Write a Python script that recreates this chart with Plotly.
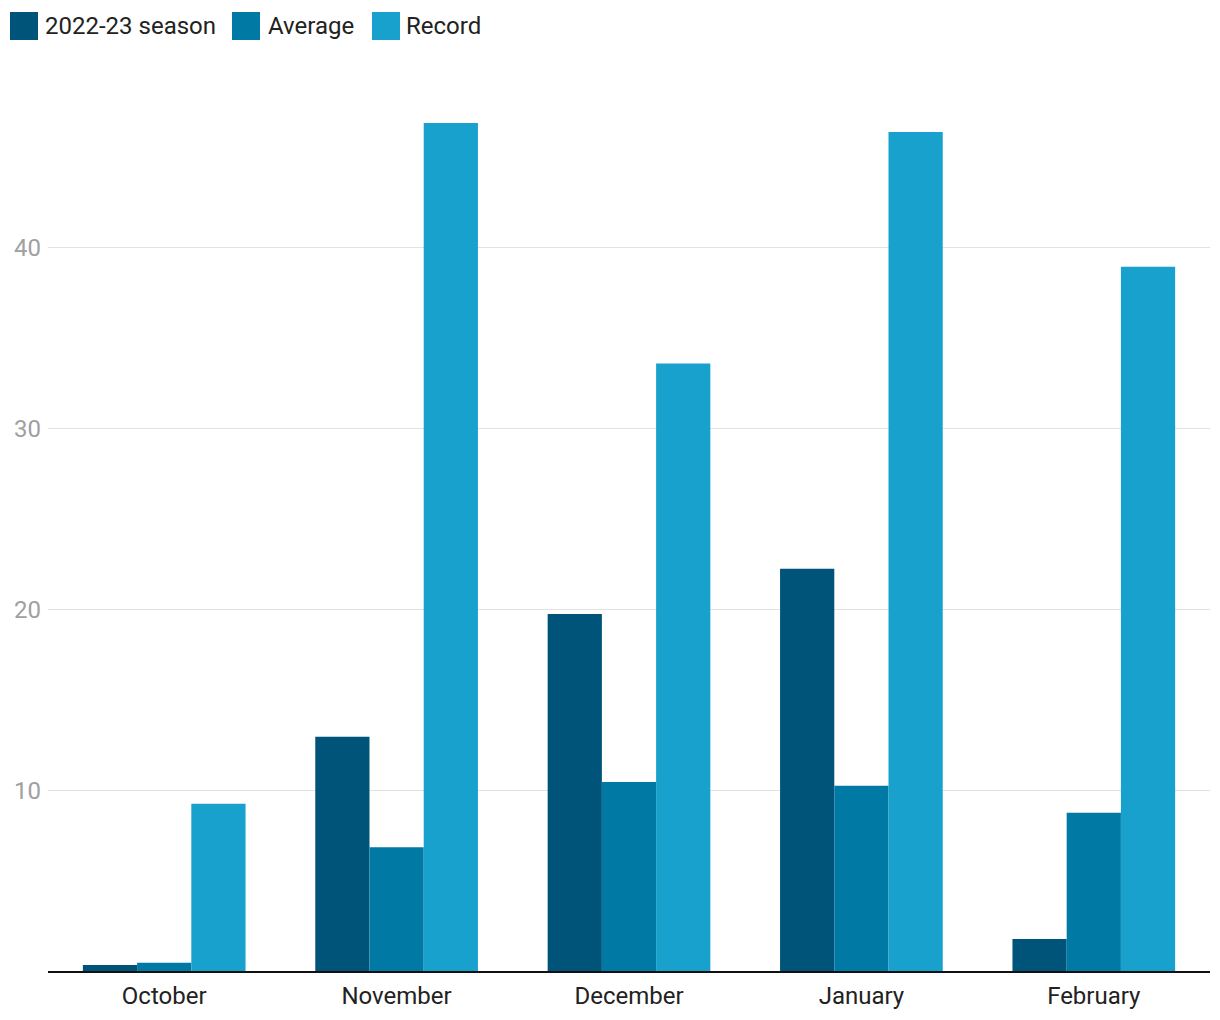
import plotly.graph_objects as go

months = ["October", "November", "December", "January", "February"]
season = [0.33, 12.95, 19.75, 22.25, 1.77]
average = [0.45, 6.85, 10.45, 10.25, 8.75]
record = [9.25, 46.9, 33.6, 46.4, 38.95]

names = ["2022-23 season", "Average", "Record"]
colors = ["#00547a", "#0079a5", "#18a1cd"]

W, H = 1220, 1020
OFF = 8  # page body margin offset
fig = go.Figure()
for name, vals, col in zip(names, [season, average, record], colors):
    fig.add_trace(go.Bar(x=months, y=vals, name=name, marker_color=col,
                         marker_line_width=0, showlegend=False))

ml, mr, mt, mb = 48 - OFF, 10 + OFF, 67 - OFF, 49 + OFF
pw, ph = W - ml - mr, H - mt - mb
def px(x):
    return (x - OFF - ml) / pw
def py(y):
    return (H - mb - (y - OFF)) / ph

legend_pos = [(10, 46), (232, 269), (372, 407)]
shapes, annotations = [], []
for (sx, tx), name, col in zip(legend_pos, names, colors):
    shapes.append(dict(type="rect", xref="paper", yref="paper",
                       x0=px(sx), x1=px(sx + 28), y0=py(40), y1=py(12),
                       fillcolor=col, line_width=0))
    annotations.append(dict(xref="paper", yref="paper", x=px(tx - 3), y=py(26),
                            xanchor="left", yanchor="middle", text=name,
                            showarrow=False,
                            font=dict(size=24, color="#222222")))

fig.update_layout(
    width=W, height=H,
    plot_bgcolor="white", paper_bgcolor="white",
    font=dict(family="Roboto", size=24, color="#222222"),
    barmode="group", bargap=0.3, bargroupgap=0,
    margin=dict(l=ml, r=mr, t=mt, b=mb),
    showlegend=False,
    shapes=shapes, annotations=annotations,
    xaxis=dict(showline=True, linecolor="#111111", linewidth=2, ticks="",
               automargin=False, ticklabelstandoff=2,
               tickfont=dict(size=24, color="#222222")),
    yaxis=dict(range=[0, 50], tickvals=[10, 20, 30, 40], showgrid=True,
               gridcolor="#e2e2e2", gridwidth=1, zeroline=False,
               automargin=False,
               tickfont=dict(size=24, color="#a0a0a0"), ticks="",
               ticklabelstandoff=6),
)
fig.write_html("out.html")
